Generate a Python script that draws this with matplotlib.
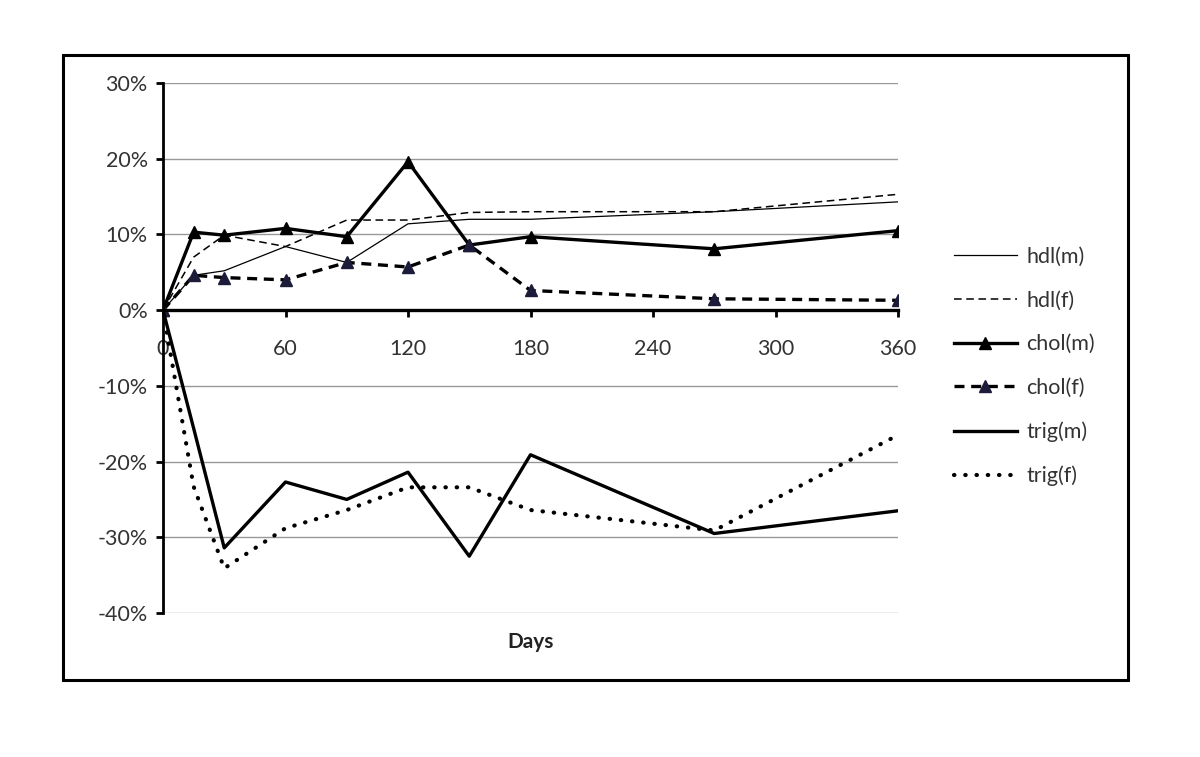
import matplotlib.pyplot as plt
import numpy as np
from matplotlib.patches import Rectangle
from matplotlib.ticker import FuncFormatter

# days of measurement
days = [0, 15, 30, 60, 90, 120, 150, 180, 270, 360]

# percent change from baseline
hdl_m = [0, 4.6, 5.2, 8.4, 6.3, 11.4, 12.0, 12.0, 13.0, 14.3]
hdl_f = [0, 7.0, 9.9, 8.4, 11.9, 11.9, 12.9, 13.0, 13.0, 15.3]
chol_m = [0, 10.3, 9.9, 10.8, 9.7, 19.6, 8.6, 9.7, 8.1, 10.5]
chol_f = [0, 4.6, 4.3, 4.0, 6.3, 5.7, 8.6, 2.6, 1.5, 1.3]
trig_m = [0, -15.6, -31.4, -22.7, -25.0, -21.4, -32.5, -19.1, -29.5, -26.5]
trig_f = [0, -23.3, -34.1, -28.8, -26.4, -23.4, -23.4, -26.4, -29.1, -16.5]

plt.rcParams['font.family'] = ['Lato', 'DejaVu Sans']
txt = '#333333'

fig = plt.figure(figsize=(12, 7.57), dpi=100)
ax = fig.add_axes([163 / 1200, 1 - 613 / 757, 735 / 1200, 530 / 757])

# outer frame around the whole chart
fig.patches.append(Rectangle((63 / 1200, 1 - 680 / 757), 1065 / 1200, 625 / 757,
                             transform=fig.transFigure, fill=False,
                             edgecolor='black', linewidth=2.2))

ax.plot(days, hdl_m, color='black', lw=0.9, label='hdl(m)')
ax.plot(days, hdl_f, color='black', lw=1.1, ls=(0, (5, 3)), label='hdl(f)')
ax.plot(days, chol_m, color='black', lw=2.4, marker='^', ms=9, label='chol(m)')
ax.plot(days, chol_f, color='black', lw=2.4, ls=(0, (3, 2)), marker='^', ms=9,
        mfc='#1c1c3a', mec='#1c1c3a', label='chol(f)')
ax.plot(days, trig_m, color='black', lw=2.4, label='trig(m)')
ax.plot(days, trig_f, color='black', lw=3, ls=(0, (0.1, 2.6)),
        dash_capstyle='round', label='trig(f)')

ax.set_xlim(0, 360)
ax.set_ylim(-40, 30)
ax.set_xticks(np.arange(0, 361, 60))
ax.set_yticks(np.arange(-40, 31, 10))
ax.yaxis.set_major_formatter(FuncFormatter(lambda v, p: f'{v:.0f}%'))

ax.grid(axis='y', color='#999999', lw=1)
ax.set_axisbelow(True)
for s in ['top', 'right']:
    ax.spines[s].set_visible(False)
ax.spines['bottom'].set_position(('data', 0))
ax.spines['bottom'].set_linewidth(2.4)
ax.spines['left'].set_linewidth(2)
ax.tick_params(axis='x', direction='out', length=5, width=2, pad=16,
               labelsize=15.5, labelcolor=txt)
ax.tick_params(axis='y', direction='out', length=5, width=2, pad=6,
               labelsize=15.5, labelcolor=txt)

ax.text(0.5, -0.035, 'Days', transform=ax.transAxes, ha='center', va='top',
        fontsize=15, fontweight='bold', color='#222222')

leg = ax.legend(loc='center left', bbox_to_anchor=(1.05, 0.465), frameon=False,
                fontsize=15.5, handlelength=2.9, labelspacing=1.1,
                handletextpad=0.45)
for t in leg.get_texts():
    t.set_color(txt)

fig.savefig('out.png', dpi=100)
